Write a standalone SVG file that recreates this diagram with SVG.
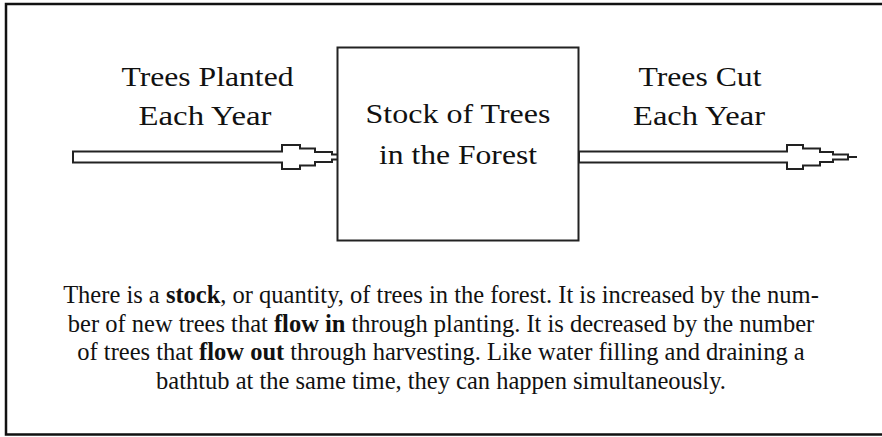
<svg xmlns="http://www.w3.org/2000/svg" width="882" height="437" viewBox="0 0 882 437">
<style>
.frame{fill:none;stroke:#111;stroke-width:2.5}
.box{fill:#fff;stroke:#222;stroke-width:2}
.arrow{fill:#fff;stroke:#222;stroke-width:2;stroke-linejoin:miter}
.tick{stroke:#222;stroke-width:2}
.lbl{font-family:"Liberation Serif","Times New Roman",serif;font-size:27px;fill:#111;text-anchor:middle}
.para{font-family:"Liberation Serif","Times New Roman",serif;font-size:24.5px;fill:#111;text-anchor:middle}
.b{font-weight:bold}
</style>
<rect width="882" height="437" fill="#fff"/>
<path class="frame" d="M886,4 H6 V434.5 H886"/>
<g id="connectors">
  <g id="flow-in">
    <path class="arrow" d="M73,151.5 H282 V145 H300 V148.5 H315 V152 H332 V154.5 H341 V159.5 H332 V162 H315 V165.5 H300 V169 H282 V162.5 H73 Z"/>
    <line class="tick" x1="341" y1="157" x2="352" y2="157"/>
  </g>
  <g id="flow-out">
    <path class="arrow" d="M579,151.5 H787 V145 H803 V148.5 H820 V152 H833 V154.5 H848 V159.5 H833 V162 H820 V165.5 H803 V169 H787 V162.5 H579 Z"/>
    <line class="tick" x1="848" y1="157" x2="857" y2="157"/>
  </g>
</g>
<g id="stock">
  <rect class="box" x="337.5" y="47.5" width="241" height="193"/>
  <text class="lbl" x="458" y="123" textLength="185" lengthAdjust="spacingAndGlyphs">Stock of Trees</text>
  <text class="lbl" x="458" y="164" textLength="158" lengthAdjust="spacingAndGlyphs">in the Forest</text>
</g>
<g id="label-in">
  <text class="lbl" x="207.5" y="86" textLength="172" lengthAdjust="spacingAndGlyphs">Trees Planted</text>
  <text class="lbl" x="205" y="125" textLength="133" lengthAdjust="spacingAndGlyphs">Each Year</text>
</g>
<g id="label-out">
  <text class="lbl" x="700" y="86" textLength="123" lengthAdjust="spacingAndGlyphs">Trees Cut</text>
  <text class="lbl" x="699" y="125" textLength="132" lengthAdjust="spacingAndGlyphs">Each Year</text>
</g>
<g id="caption">
  <text class="para" x="441" y="303">There is a <tspan class="b">stock</tspan>, or quantity, of trees in the forest. It is increased by the num-</text>
  <text class="para" x="441" y="331.5">ber of new trees that <tspan class="b">flow in</tspan> through planting. It is decreased by the number</text>
  <text class="para" x="441" y="360">of trees that <tspan class="b">flow out</tspan> through harvesting. Like water filling and draining a</text>
  <text class="para" x="441" y="388.5">bathtub at the same time, they can happen simultaneously.</text>
</g>
</svg>
